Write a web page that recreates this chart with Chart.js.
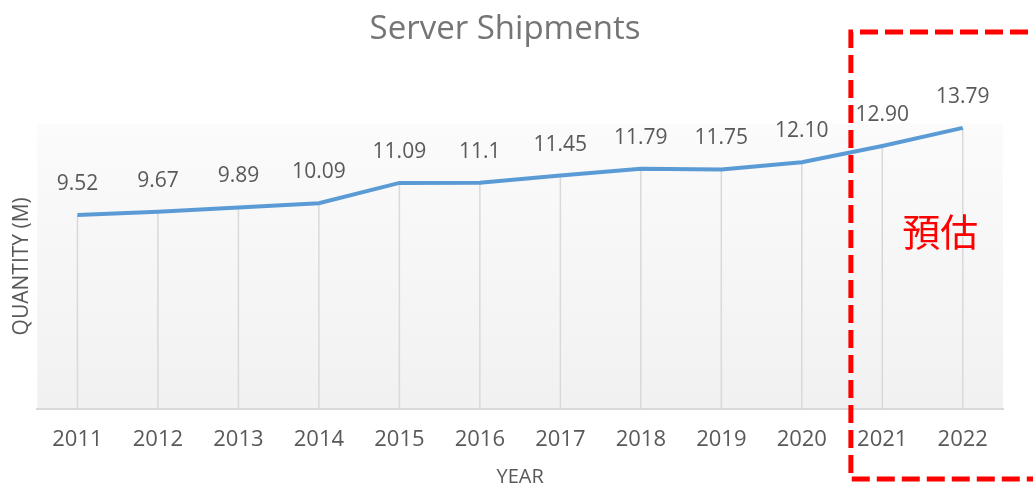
<!DOCTYPE html>
<html>
<head>
<meta charset="utf-8">
<script src="https://cdn.jsdelivr.net/npm/chart.js@4.4.1/dist/chart.umd.min.js"></script>
<style>
    body { margin: 0; background: #ffffff; }
    #wrap { width: 1033px; height: 485px; }
</style>
</head>
<body>
<div id="wrap"><canvas id="shipments"></canvas></div>
<script>
const years = ['2011', '2012', '2013', '2014', '2015', '2016', '2017', '2018', '2019', '2020', '2021', '2022'];
const shipments = [9.52, 9.67, 9.89, 10.09, 11.09, 11.1, 11.45, 11.79, 11.75, 12.10, 12.90, 13.79];
const shipmentLabels = ['9.52', '9.67', '9.89', '10.09', '11.09', '11.1', '11.45', '11.79', '11.75', '12.10', '12.90', '13.79'];
const forecastNote = '預估';

const FONT = "'Open Sans', 'Noto Sans', sans-serif";

// light grey fade behind the plot area
const plotBackground = {
    id: 'plotBackground',
    beforeDraw(chart) {
        const {ctx, chartArea: a} = chart;
        const g = ctx.createLinearGradient(0, a.top, 0, a.bottom);
        g.addColorStop(0, '#fbfbfb');
        g.addColorStop(1, '#f1f1f1');
        ctx.save();
        ctx.fillStyle = g;
        ctx.fillRect(a.left, a.top, a.right - a.left, a.bottom - a.top);
        ctx.restore();
    }
};

// drop lines from each point down to the axis
const dropLines = {
    id: 'dropLines',
    beforeDatasetsDraw(chart) {
        const {ctx, chartArea: a} = chart;
        const pts = chart.getDatasetMeta(0).data;
        ctx.save();
        ctx.strokeStyle = '#d9d9d9';
        ctx.lineWidth = 1.5;
        pts.forEach(p => {
            ctx.beginPath();
            ctx.moveTo(p.x, p.y);
            ctx.lineTo(p.x, a.bottom);
            ctx.stroke();
        });
        ctx.restore();
    }
};

// value labels above the points
const valueLabels = {
    id: 'valueLabels',
    afterDatasetsDraw(chart) {
        const {ctx} = chart;
        const pts = chart.getDatasetMeta(0).data;
        ctx.save();
        ctx.font = '21px ' + FONT;
        ctx.fillStyle = '#595959';
        ctx.textAlign = 'center';
        ctx.textBaseline = 'middle';
        pts.forEach((p, i) => {
            ctx.fillText(shipmentLabels[i], p.x, p.y - 31);
        });
        ctx.restore();
    }
};

// red dashed box round the forecast years
const forecastBox = {
    id: 'forecastBox',
    afterDraw(chart) {
        const {ctx} = chart;
        const x = chart.scales.x;
        const y = chart.scales.y;
        const n = years.length;
        const left = x.getPixelForValue(n - 3) + (x.getPixelForValue(n - 2) - x.getPixelForValue(n - 3)) * 0.61;
        const top = 32;
        const bottom = chart.height - 6;
        ctx.save();
        ctx.strokeStyle = '#ff0000';
        ctx.lineWidth = 5;
        ctx.setLineDash([18, 7]);
        ctx.beginPath();
        ctx.moveTo(chart.width + 20, top);
        ctx.lineTo(left, top);
        ctx.lineTo(left, bottom);
        ctx.lineTo(chart.width + 20, bottom);
        ctx.stroke();
        ctx.setLineDash([]);
        const tx = x.getPixelForValue(n - 2) + (x.getPixelForValue(n - 1) - x.getPixelForValue(n - 2)) * 0.72;
        ctx.font = "38px 'Noto Sans CJK TC', sans-serif";
        ctx.fillStyle = '#ff0000';
        ctx.textAlign = 'center';
        ctx.textBaseline = 'middle';
        ctx.fillText(forecastNote, tx, y.getPixelForValue(8.7));
        ctx.restore();
    }
};

window.onload = function() {
    shipmentChart();
};

function shipmentChart() {
    const ctx = document.getElementById('shipments').getContext('2d');
    new Chart(ctx, {
        type: 'line',
        data: {
            labels: years,
            datasets: [
                {
                    label: 'Server Shipments',
                    data: shipments,
                    borderColor: '#5b9bd5',
                    backgroundColor: '#5b9bd5',
                    borderWidth: 4,
                    fill: false,
                    tension: 0,
                    pointRadius: 0,
                    pointHoverRadius: 0
                }
            ]
        },
        options: {
            responsive: true,
            maintainAspectRatio: false,
            animation: false,
            layout: {
                padding: { left: 7, right: 30, top: 0, bottom: 0 }
            },
            plugins: {
                legend: { display: false },
                tooltip: { enabled: false },
                title: {
                    display: true,
                    text: 'Server Shipments',
                    color: '#757575',
                    font: { family: FONT, size: 33, weight: 'normal', lineHeight: 1.2 },
                    padding: { top: 10, bottom: 74 }
                }
            },
            scales: {
                x: {
                    offset: true,
                    grid: { display: false, drawTicks: false },
                    border: { display: true, color: '#d9d9d9', width: 2 },
                    ticks: {
                        color: '#595959',
                        font: { family: FONT, size: 22 },
                        padding: 18,
                        maxRotation: 0,
                        autoSkip: false
                    },
                    title: {
                        display: true,
                        text: 'YEAR',
                        color: '#595959',
                        font: { family: FONT, size: 20, lineHeight: 0.75 },
                        padding: { top: 10, bottom: 0 }
                    },
                    afterFit(scale) {
                        scale.height = 76;
                    }
                },
                y: {
                    min: 0,
                    max: 14,
                    grid: { display: false, drawTicks: false },
                    border: { display: false },
                    ticks: { display: false },
                    title: {
                        display: true,
                        text: 'QUANTITY (M)',
                        color: '#595959',
                        font: { family: FONT, size: 21, lineHeight: 1.2 },
                        padding: { top: 2, bottom: 3 }
                    }
                }
            }
        },
        plugins: [plotBackground, dropLines, valueLabels, forecastBox]
    });
}
</script>
</body>
</html>
